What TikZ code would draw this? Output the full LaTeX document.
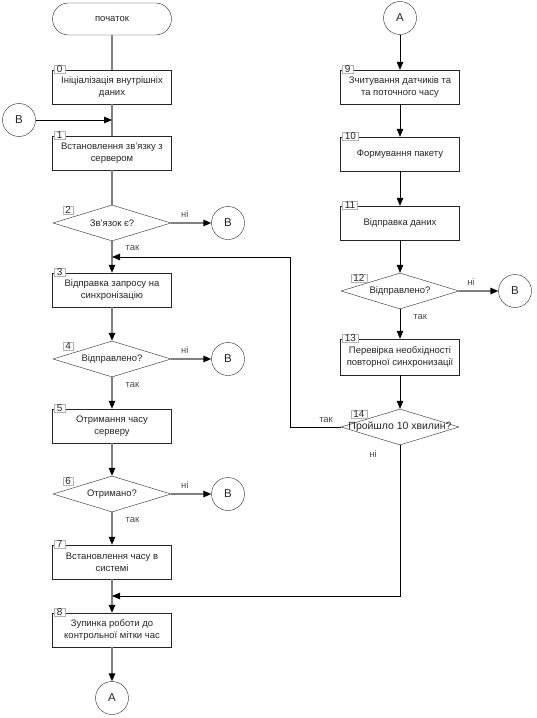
\documentclass[tikz,border=0pt]{standalone}
\usepackage{fontspec}
\setmainfont{Liberation Sans}
\usetikzlibrary{shapes.geometric,arrows.meta,positioning}
\newcommand{\dtext}[1]{\makebox[0pt]{#1}}
\begin{document}
\begin{tikzpicture}[x=1bp,y=-1bp]
	\tikzstyle{every node}+=[font=\fontsize{9.5}{12}\selectfont, text=black!85]
	\tikzstyle{process}=[draw=black!85, fill=white, minimum width=119bp, minimum height=34bp, align=center, inner sep=1pt]
	\tikzstyle{terminal}=[process, rounded corners=16bp, minimum height=32bp]
	\tikzstyle{decision}=[diamond, draw=black!85, fill=white, minimum width=118bp, minimum height=36bp, inner sep=0pt]
	\tikzstyle{conn}=[circle, draw=black!85, fill=white, minimum size=33bp, inner sep=0pt, font=\fontsize{11.5}{13}\selectfont]
	\tikzstyle{numtab}=[draw=black!30, fill=white, inner xsep=2.4bp, inner ysep=0.6bp, anchor=north west, font=\fontsize{10}{10}\selectfont]
	\tikzstyle{flow}=[draw=black, line width=0.8bp, -{Triangle[length=8bp,width=6.5bp]}]
	\tikzstyle{grayline}=[draw=black!50, line width=1.4bp]
	\tikzstyle{grayflow}=[grayline, -{Triangle[length=8bp,width=6.5bp,color=black]}]
	\tikzstyle{lbl}=[text=black!70, inner sep=1pt]
	\useasboundingbox (0,0) rectangle (537,718);

	% left column
	\node[terminal] (start) at (112,19) {початок};
	\node[process] (b0) at (112,87) {Ініціалізація внутрішніх\\даних};
	\node[conn] (bin) at (19,120) {B};
	\node[process] (b1) at (112,153) {Встановлення зв'язку з\\сервером};
	\node[decision] (d2) at (112,223) {\dtext{Зв'язок є?}};
	\node[conn] (bout2) at (228,223) {B};
	\node[process] (b3) at (112,290) {Відправка запросу на\\синхронізацію};
	\node[decision] (d4) at (112,359) {\dtext{Відправлено?}};
	\node[conn] (bout4) at (228,359) {B};
	\node[process] (b5) at (112,426) {Отримання часу\\серверу};
	\node[decision] (d6) at (112,494) {\dtext{Отримано?}};
	\node[conn] (bout6) at (228,494) {B};
	\node[process] (b7) at (112,562) {Встановлення часу в\\системі};
	\node[process] (b8) at (112,630) {Зупинка роботи до\\контрольної мітки час};
	\node[conn] (aout) at (112,698) {A};

	% right column
	\node[conn] (ain) at (400,18) {A};
	\node[process] (b9) at (400,87) {Зчитування датчиків та\\та поточного часу};
	\node[process] (b10) at (400,154) {Формування пакету};
	\node[process] (b11) at (400,223) {Відправка даних};
	\node[decision] (d12) at (400,291) {\dtext{Відправлено?}};
	\node[conn] (bout12) at (515,291) {B};
	\node[process, minimum height=36bp] (b13) at (400,357) {Перевірка необхідності\\повторної синхронизації};
	\node[decision] (d14) at (400,427) {\dtext{\fontsize{10.5}{12}\selectfont Пройшло 10 хвилин?}};

	\coordinate (loopx) at (290,427);
	\coordinate (loopin) at (112,257);
	\coordinate (endin) at (112,596);

	% number tabs
	\foreach \n in {0,1,3,5,7,8,9,10,11,13}
		\node[numtab] (t\n) at ([xshift=2bp,yshift=5bp]b\n.north west) {\n};
	\foreach \n in {2,4,6,12,14}
		\node[numtab] (t\n) at ([xshift=10bp,yshift=-1bp]d\n.west |- d\n.north) {\n};

	% connectors, left
	\draw[grayline] (start) -- (b0);
	\draw[grayline] (b0) -- (b1);
	\draw[flow] (bin) -- (bin -| b1);
	\draw[grayline] (b1) -- (d2);
	\draw[grayflow] (d2) -- node[lbl, above=4bp, pos=0.34] {ні} (bout2);
	\draw[grayflow] (d2) -- node[lbl, pos=0.2, right=12bp] {так} (b3);
	\draw[grayflow] (b3) -- (d4);
	\draw[grayflow] (d4) -- node[lbl, above=4bp, pos=0.34] {ні} (bout4);
	\draw[grayflow] (d4) -- node[lbl, pos=0.25, right=12bp] {так} (b5);
	\draw[grayflow] (b5) -- (d6);
	\draw[grayflow] (d6) -- node[lbl, above=4bp, pos=0.34] {ні} (bout6);
	\draw[grayflow] (d6) -- node[lbl, pos=0.25, right=12bp] {так} (b7);
	\draw[grayflow] (b7) -- (b8);
	\draw[grayflow] (b8) -- (aout);

	% connectors, right
	\draw[flow] (ain) -- (b9);
	\draw[flow] (b9) -- (b10);
	\draw[flow] (b10) -- (b11);
	\draw[flow] (b11) -- (d12);
	\draw[grayflow] (d12) -- node[lbl, above=4bp, pos=0.3] {ні} (bout12);
	\draw[flow] (d12) -- node[lbl, pos=0.26, right=12bp] {так} (b13);
	\draw[flow] (b13) -- (d14);
	\draw[flow] (d14) -- node[lbl, above=3bp, pos=0.29] {так} (loopx) |- (loopin);
	\draw[flow] (d14) -- node[lbl, pos=0.06, left=22bp] {ні} (d14 |- endin) -- (endin);
\end{tikzpicture}
\end{document}
